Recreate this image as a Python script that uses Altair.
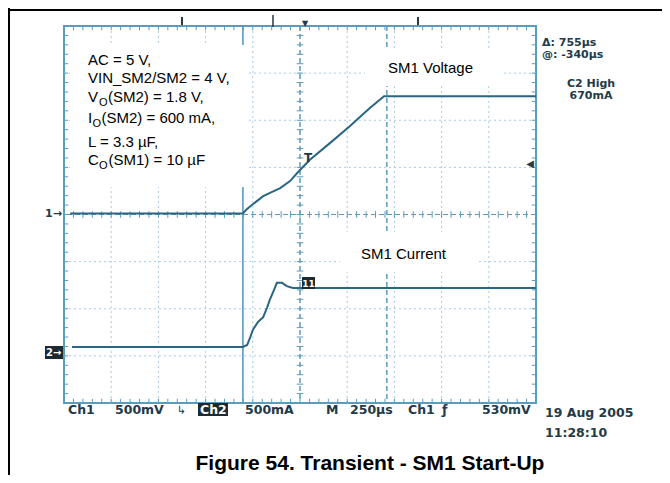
import altair as alt
import pandas as pd
import numpy as np

# ---- trace data, in oscilloscope divisions (x: 0..10 div @ 250 us/div, y: 0..8 div) ----
v_time = [0.13, 3.79, 3.86, 3.98, 4.22, 4.41, 4.58, 4.79, 4.94, 5.21, 5.64, 6.06, 6.48, 6.78, 10.0]
v_level = [4.02, 4.02, 4.10, 4.20, 4.39, 4.48, 4.56, 4.71, 4.88, 5.16, 5.52, 5.88, 6.26, 6.51, 6.51]
i_time = [0.17, 3.79, 3.88, 3.94, 4.00, 4.11, 4.22, 4.30, 4.36, 4.45, 4.51, 4.62, 4.72, 4.85, 10.0]
i_level = [1.19, 1.19, 1.23, 1.38, 1.55, 1.72, 1.82, 2.02, 2.19, 2.40, 2.55, 2.55, 2.48, 2.44, 2.44]

grid_x = [1, 2, 3, 4, 6, 7, 8, 9]
grid_y = [1, 2, 3, 5, 6, 7]
center_x = [5]
center_y = [4]
cursor_solid = [3.79]
cursor_dashed = [6.84]

annot_lines = ["AC = 5 V,", "VIN_SM2/SM2 = 4 V,", "(SM2) = 1.8 V,", "(SM2) = 600 mA,",
               "L = 3.3 \u00b5F,", "(SM1) = 10 \u00b5F"]

# ---- layout ----
W, H = 472, 377
OX, OY = 64, 26          # page position of the plot origin
PAD = {"left": 56, "top": 18, "right": 126, "bottom": 72}

XS = alt.Scale(domain=[0, 10], nice=False, zero=False)
YS = alt.Scale(domain=[0, 8], nice=False, zero=False)

GRID = "#a9cce0"
FRAME = "#5b9cbd"
TRACE = "#2a6682"
SCOPE_TXT = "#233a47"
SANS = "Liberation Sans"
SCOPE_FONT = "DejaVu Sans"


def px(v):
    return v - OX


def py(v):
    return v - OY


def label(t, x, y, size=15, color="#000000", font=SANS, weight="normal", align="left"):
    return alt.Chart(pd.DataFrame({"t": [t]})).mark_text(
        align=align, baseline="alphabetic", fontSize=size, font=font,
        fontWeight=weight, color=color
    ).encode(x=alt.value(px(x)), y=alt.value(py(y)), text="t:N")


def box(x1, y1, x2, y2, color="white"):
    return alt.Chart(pd.DataFrame({"a": [0]})).mark_rect(color=color).encode(
        x=alt.value(px(x1)), x2=alt.value(px(x2)),
        y=alt.value(py(y1)), y2=alt.value(py(y2)))


def prule(x1, y1, x2, y2, color="#000000", width=1.0):
    return alt.Chart(pd.DataFrame({"a": [0]})).mark_rule(color=color, strokeWidth=width).encode(
        x=alt.value(x1), x2=alt.value(x2), y=alt.value(y1), y2=alt.value(y2))


# ---- grid ----
grid_v = alt.Chart(pd.DataFrame({"x": grid_x})).mark_rule(
    color=GRID, strokeDash=[2, 3], strokeWidth=1).encode(x=alt.X("x:Q", scale=XS, axis=None))
grid_h = alt.Chart(pd.DataFrame({"y": grid_y})).mark_rule(
    color=GRID, strokeDash=[2, 3], strokeWidth=1).encode(y=alt.Y("y:Q", scale=YS, axis=None))
cen_v = alt.Chart(pd.DataFrame({"x": center_x + cursor_dashed})).mark_rule(
    color=FRAME, strokeDash=[5, 3], strokeWidth=1.5).encode(x=alt.X("x:Q", scale=XS, axis=None))
cen_h = alt.Chart(pd.DataFrame({"y": center_y})).mark_rule(
    color=FRAME, strokeDash=[5, 3], strokeWidth=1.2).encode(y=alt.Y("y:Q", scale=YS, axis=None))
cur_s = alt.Chart(pd.DataFrame({"x": cursor_solid})).mark_rule(
    color=FRAME, strokeWidth=1.6).encode(x=alt.X("x:Q", scale=XS, axis=None))

# minor ticks (5 per division) on the frame and centre lines
tx = np.round(np.arange(0, 10.001, 0.2), 2)
ty = np.round(np.arange(0, 8.001, 0.2), 2)
rows = []
for t in tx:
    rows += [(t, t, 3.93, 4.07), (t, t, 0.0, 0.09), (t, t, 7.91, 8.0)]
for t in ty:
    rows += [(4.93, 5.07, t, t), (0.0, 0.09, t, t), (9.91, 10.0, t, t)]
ticks = pd.DataFrame(rows, columns=["x", "x2", "y", "y2"])
tick_layer = alt.Chart(ticks).mark_rule(color=FRAME, strokeWidth=1).encode(
    x=alt.X("x:Q", scale=XS, axis=None), x2="x2:Q",
    y=alt.Y("y:Q", scale=YS, axis=None), y2="y2:Q")

# ---- traces ----
vdf = pd.DataFrame({"t": v_time, "v": v_level})
idf = pd.DataFrame({"t": i_time, "v": i_level})
v_line = alt.Chart(vdf).mark_line(color=TRACE, strokeWidth=2).encode(
    x=alt.X("t:Q", scale=XS, axis=None), y=alt.Y("v:Q", scale=YS, axis=None))
i_line = alt.Chart(idf).mark_line(color=TRACE, strokeWidth=2).encode(
    x=alt.X("t:Q", scale=XS, axis=None), y=alt.Y("v:Q", scale=YS, axis=None))

# ---- annotation boxes ----
boxes = [box(70, 45, 247, 187), box(365, 50, 502, 86), box(340, 232, 476, 272)]

# annotation text
ann = [
    label(annot_lines[0], 88, 65),
    label(annot_lines[1], 88, 83),
    label("V", 88, 102), label("O", 99, 106, size=11), label(annot_lines[2], 108, 102),
    label("I", 88, 123), label("O", 92.5, 127, size=11), label(annot_lines[3], 101.5, 123),
    label(annot_lines[4], 88, 147),
    label("C", 88, 165), label("O", 99, 169, size=11), label(annot_lines[5], 108.5, 165),
    label("SM1 Voltage", 388, 73),
    label("SM1 Current", 361, 259),
]

# scope readouts
sc = dict(size=12.5, color=SCOPE_TXT, font=SCOPE_FONT, weight="bold")
sm = dict(size=11, color=SCOPE_TXT, font=SCOPE_FONT, weight="bold")
scope = [
    label("Ch1", 68, 414, **sc),
    label("500mV", 115, 414, **sc),
    label("\u21b3", 177, 414, size=11, color=SCOPE_TXT, font=SCOPE_FONT),
    box(198, 403, 228, 416, color="#1b2a33"),
    label("Ch2", 200, 414, size=12.5, color="#ffffff", font=SCOPE_FONT, weight="bold"),
    label("500mA", 245, 414, **sc),
    label("M", 326, 414, **sc),
    label("250\u00b5s", 350, 414, **sc),
    label("Ch1", 408, 414, **sc),
    label("\u0192", 442, 414, **sc),
    label("530mV", 482, 414, **sc),
    label("19 Aug 2005", 545, 417, **sc),
    label("11:28:10", 545, 437, **sc),
    label("\u0394: 755\u00b5s", 542, 46, **sm),
    label("@: -340\u00b5s", 542, 58, **sm),
    label("C2 High", 591, 87, align="center", **sm),
    label("670mA", 591, 99, align="center", **sm),
    # channel / trigger markers
    label("1\u2192", 45, 217, size=11, color=SCOPE_TXT, font=SCOPE_FONT, weight="bold"),
    box(45, 346, 63, 359, color="#1b2a33"),
    label("2\u2192", 46, 356, size=10, color="#ffffff", font=SCOPE_FONT, weight="bold"),
    box(302, 277, 315, 289, color="#1b2a33"),
    label("11", 308.5, 287, size=9, color="#ffffff", font=SCOPE_FONT, weight="bold", align="center"),
    label("T", 308, 162, size=12, color=SCOPE_TXT, font=SCOPE_FONT, weight="bold", align="center"),
    label("\u25c0", 530, 167, size=10, color=SCOPE_TXT, font=SCOPE_FONT, align="center"),
    label("\u25bc", 305, 26, size=8, color=SCOPE_TXT, font=SCOPE_FONT, align="center"),
    prule(px(182), py(17), px(182), py(25), color=SCOPE_TXT, width=2),
    prule(px(273), py(15), px(273), py(27), color=SCOPE_TXT, width=1.5),
    prule(px(418), py(17), px(418), py(25), color=SCOPE_TXT, width=2),
]

# caption and page frame (black rule along the top and left of the page)
caption = label("Figure 54. Transient - SM1 Start-Up", 370, 470, size=21, weight="bold", align="center")
frame_v = box(8, 8, 10, 475, color="#000000")
frame_h = box(8, 9, 662, 11, color="#000000")
frame_h2 = alt.Chart(pd.DataFrame({"a": [0]})).mark_rule(color="#000000", strokeWidth=2).encode(
    x=alt.value(px(8)), x2=alt.value(px(662)), y=alt.value(py(10)))

chart = alt.layer(
    grid_v, grid_h, tick_layer, cen_v, cen_h, cur_s,
    *boxes, v_line, i_line, *ann, *scope, caption, frame_v, frame_h, frame_h2
).properties(
    width=W, height=H, padding=PAD,
    autosize=alt.AutoSizeParams(type="none"),
    background="white",
).configure_view(stroke=FRAME, strokeWidth=2)

chart.save("out.html", embed_options={"renderer": "svg", "actions": False})
